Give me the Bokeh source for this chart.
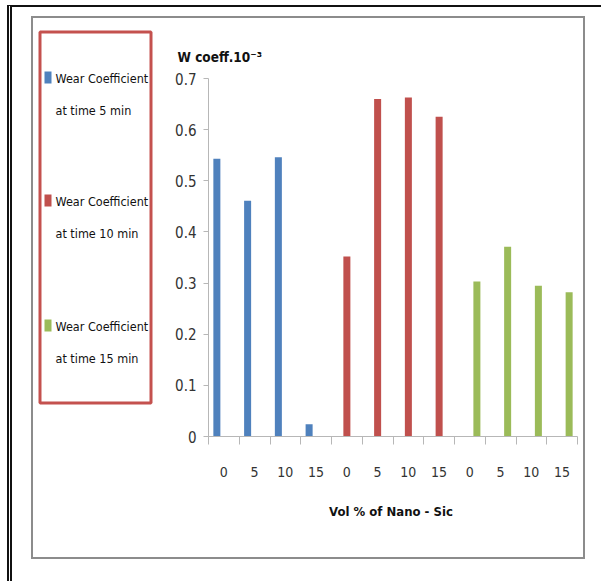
from bokeh.plotting import figure
from bokeh.layouts import row
from bokeh.models import Range1d, FixedTicker, InlineStyleSheet
from bokeh.core.properties import value
from bokeh.embed import file_html
from bokeh.resources import INLINE

# ---- data ----
vol_labels = ["0", "5", "10", "15"]
series_line1 = ["Wear Coefficient", "Wear Coefficient", "Wear Coefficient"]
series_line2 = ["at time 5 min", "at time 10 min", "at time 15 min"]
wear_5min = [0.543, 0.461, 0.546, 0.024]
wear_10min = [0.352, 0.660, 0.663, 0.625]
wear_15min = [0.303, 0.371, 0.295, 0.282]
series_colors = ["#4f81bd", "#c0504d", "#9bbb59"]
y_ticks = [0, 0.1, 0.2, 0.3, 0.4, 0.5, 0.6, 0.7]
y_tick_labels = ["0", "0.1", "0.2", "0.3", "0.4", "0.5", "0.6", "0.7"]
x_title = "Vol % of Nano  - Sic"
y_title = "W coeff.10\u207b\u00b3"

FONT = "DejaVu Sans Condensed"
W, H = 593, 573
LW = 160                     # width of legend panel figure
FL, FR, FT, FB = 208, 577, 78, 436  # plot frame in page px

# ================= legend panel (left) =================
lg = figure(width=LW, height=H, output_backend="svg", toolbar_location=None,
            x_range=Range1d(0, LW), y_range=Range1d(H, 0),
            x_axis_location=None, y_axis_location=None,
            min_border=0)
lg.frame_align = False
lg.outline_line_color = None
lg.grid.visible = False
lg.background_fill_color = "white"
lg.border_fill_color = "white"

# red legend frame
lg.quad(left=[39.5], right=[150.5], top=[31.5], bottom=[402.5],
        fill_alpha=0, line_color="#c4514e", line_width=3)
item_y = [77, 200, 325]
lg.quad(left=[44] * 3, right=[51] * 3,
        top=[y - 6 for y in item_y], bottom=[y + 6 for y in item_y],
        fill_color=series_colors, line_color=None)
lg.text(x=[55] * 3, y=[y + 1 for y in item_y], text=series_line1,
        text_font=value(FONT), text_font_size=value("12.5px"),
        text_color="#111111", text_baseline="middle", text_align="left")
lg.text(x=[55] * 3, y=[y + 33 for y in item_y], text=series_line2,
        text_font=value(FONT), text_font_size=value("12.5px"),
        text_color="#111111", text_baseline="middle", text_align="left")

# ================= main chart =================
ncat = len(vol_labels) * 3
MW = W - LW
p = figure(width=MW, height=H, output_backend="svg", toolbar_location=None,
           x_range=Range1d(0, ncat), y_range=Range1d(0, 0.7),
           min_border_left=FL - LW, min_border_right=W - FR,
           min_border_top=FT, min_border_bottom=H - FB)
p.frame_align = False
p.outline_line_color = None
p.grid.visible = False
p.background_fill_color = "white"
p.border_fill_color = "white"

all_series = [wear_5min, wear_10min, wear_15min]
bw = 0.228
for g, (vals, col) in enumerate(zip(all_series, series_colors)):
    xs = [4 * g + i + 0.5 + (g - 1) * bw for i in range(len(vals))]
    p.vbar(x=xs, top=vals, bottom=0, width=bw, fill_color=col,
           line_color=None)

ya = p.yaxis[0]
ya.ticker = FixedTicker(ticks=y_ticks)
ya.major_label_overrides = {t: l for t, l in zip(y_ticks, y_tick_labels)}
ya.axis_line_color = "#b7b7b7"
ya.major_tick_line_color = "#b7b7b7"
ya.major_tick_out = 5
ya.major_tick_in = 0
ya.minor_tick_line_color = None
ya.major_label_text_font = FONT
ya.major_label_text_font_size = "15px"
ya.major_label_text_color = "#333333"
ya.major_label_standoff = 7

xa = p.xaxis[0]
centers = [c + 0.5 for c in range(ncat)]
xa.ticker = FixedTicker(ticks=centers, minor_ticks=list(range(ncat + 1)))
xa.major_label_overrides = {c: vol_labels[i % 4] for i, c in enumerate(centers)}
xa.axis_line_color = "#b7b7b7"
xa.major_tick_line_color = None
xa.major_tick_out = 0
xa.major_tick_in = 0
xa.minor_tick_line_color = "#b7b7b7"
xa.minor_tick_out = 8
xa.minor_tick_in = 0
xa.major_label_text_font = FONT
xa.major_label_text_font_size = "14px"
xa.major_label_text_color = "#333333"
xa.major_label_standoff = 22
xa.axis_label = x_title
xa.axis_label_text_font = FONT
xa.axis_label_text_font_size = "13px"
xa.axis_label_text_font_style = "bold"
xa.axis_label_text_color = "#111111"
xa.axis_label_standoff = 24

p.title.text = y_title
p.title.align = "left"
p.title.offset = -31
p.title.text_font = FONT
p.title.text_font_size = "13.5px"
p.title.text_font_style = "bold"
p.title.text_color = "#111111"
p.title.standoff = 27

# ---- page decorations: outer black rules and grey chart frame ----
css = """
:host::before {
  content: ""; position: absolute; left: 31px; top: 16px;
  width: 554px; height: 543px; box-sizing: border-box;
  border: 2px solid #8c8c8c; pointer-events: none; z-index: 10;
}
:host::after {
  content: ""; position: absolute; left: 7px; top: 5px;
  width: 594px; height: 576px; box-sizing: border-box;
  border-left: 5px double #111111; border-top: 2px solid #111111;
  pointer-events: none; z-index: 10;
}
"""
layout = row(lg, p, spacing=0)
layout.stylesheets = [InlineStyleSheet(css=css)]

open("out.html", "w").write(file_html(layout, INLINE))
